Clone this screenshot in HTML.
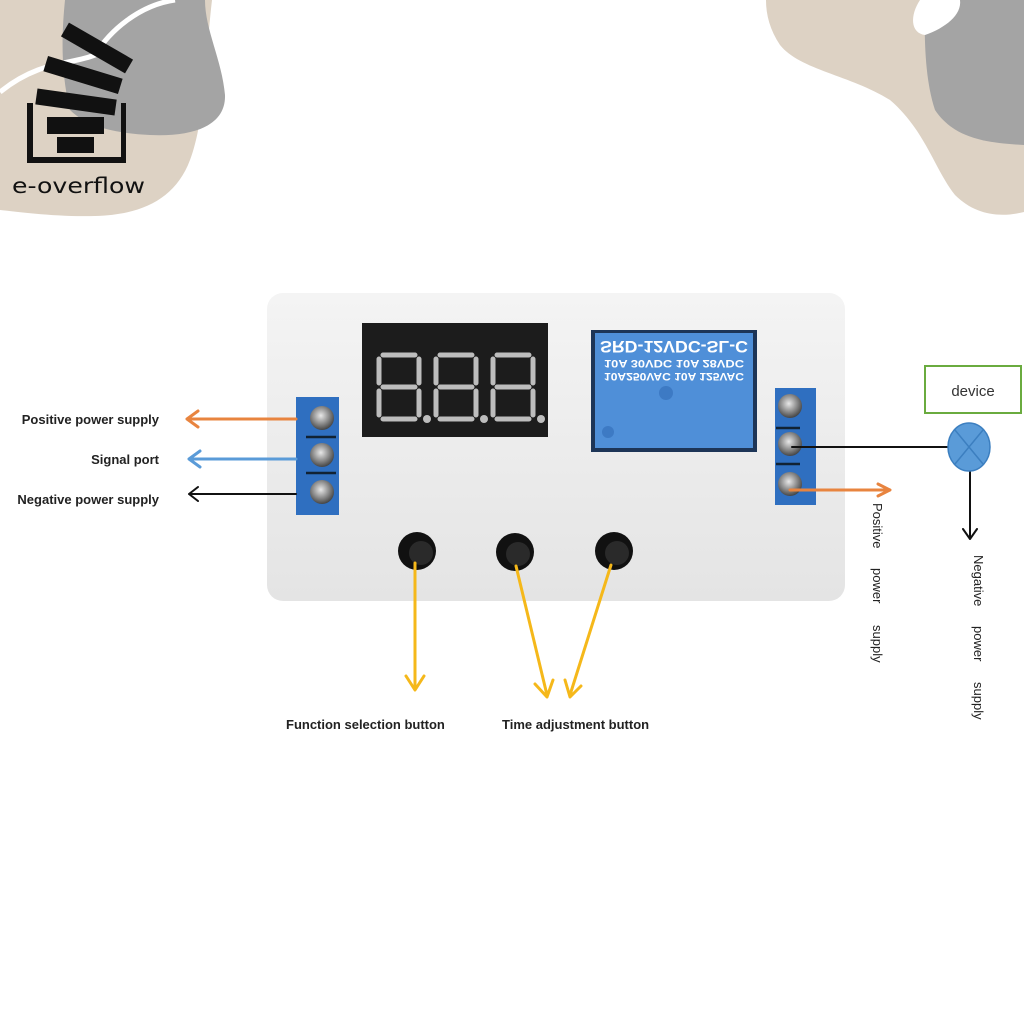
<!DOCTYPE html>
<html><head><meta charset="utf-8"><style>
html,body{margin:0;padding:0;background:#fff;width:1024px;height:1024px;overflow:hidden}
svg{display:block}
text{font-family:"Liberation Sans","DejaVu Sans",sans-serif}
</style></head><body>
<svg width="1024" height="1024" viewBox="0 0 1024 1024" xmlns="http://www.w3.org/2000/svg">
<defs>
<linearGradient id="bd" x1="0" y1="0" x2="0" y2="1"><stop offset="0" stop-color="#f4f4f4"/><stop offset="1" stop-color="#e4e4e4"/></linearGradient>
<radialGradient id="scr" cx="0.45" cy="0.4" r="0.7"><stop offset="0" stop-color="#e8e8e8"/><stop offset="0.5" stop-color="#8a8a8a"/><stop offset="1" stop-color="#2a2a2a"/></radialGradient>
</defs>
<path d="M0,0 L212,0 C205,60 205,120 190,160 C175,200 140,215 95,216 C55,217 20,212 0,210 Z" fill="#ddd2c4"/>
<path d="M65,0 L205,0 C205,30 222,60 225,95 C226,125 195,137 150,135 C110,133 85,125 70,110 C60,70 62,30 65,0 Z" fill="#a4a4a4"/>
<path d="M0,92 C40,60 70,65 95,55 C110,30 140,5 175,0" fill="none" stroke="#fff" stroke-width="5"/>
<g fill="#111">
<path d="M27,103 h6 v54 h88 v-54 h5 v60 h-99 z"/>
<rect x="47" y="117" width="57" height="17"/>
<rect x="57" y="137" width="37" height="16"/>
<rect x="36" y="94" width="80" height="16" transform="rotate(8 76 102)"/>
<rect x="44" y="67" width="78" height="16" transform="rotate(17 83 75)"/>
<rect x="60" y="40" width="74" height="16" transform="rotate(30 97 48)"/>
</g>
<text x="12" y="193" font-size="21" fill="#111" textLength="133" lengthAdjust="spacingAndGlyphs" style="font-family:'DejaVu Sans',sans-serif">e-overflow</text>
<path d="M766,0 L1024,0 L1024,212 C1000,218 975,215 955,195 C935,170 925,130 890,100 C850,75 800,70 780,45 C770,30 766,15 766,0 Z" fill="#ddd2c4"/>
<path d="M925,0 L1024,0 L1024,145 C990,143 955,140 935,110 C925,80 924,40 925,0 Z" fill="#a4a4a4"/>
<path d="M920,0 L960,0 C962,15 945,28 925,35 C910,33 910,15 920,0 Z" fill="#fff"/>
<rect x="267" y="293" width="578" height="308" rx="16" fill="url(#bd)"/>
<rect x="362" y="323" width="186" height="114" fill="#1c1c1c"/>
<g fill="none" stroke="#bdbdbd" stroke-width="5" stroke-linecap="round">
<path d="M383,355 h32 M383,387 h32 M383,419 h32 M379,359 v24 M379,391 v24 M419,359 v24 M419,391 v24"/>
<path d="M440,355 h32 M440,387 h32 M440,419 h32 M436,359 v24 M436,391 v24 M476,359 v24 M476,391 v24"/>
<path d="M497,355 h32 M497,387 h32 M497,419 h32 M493,359 v24 M493,391 v24 M533,359 v24 M533,391 v24"/>
</g>
<circle cx="427" cy="419" r="4" fill="#bdbdbd"/><circle cx="484" cy="419" r="4" fill="#bdbdbd"/><circle cx="541" cy="419" r="4" fill="#bdbdbd"/>
<rect x="591" y="330" width="166" height="122" fill="#1d3557"/>
<rect x="595" y="333" width="158" height="115" fill="#4f8fd8"/>
<g transform="translate(0 782) scale(1 -1)" fill="#fff" font-weight="bold">
<text x="600" y="441" font-size="17" textLength="148" lengthAdjust="spacingAndGlyphs">SRD-12VDC-SL-C</text>
<text x="604" y="422" font-size="11" textLength="140" lengthAdjust="spacingAndGlyphs">10A 30VDC   10A   28VDC</text>
<text x="604" y="409" font-size="11" textLength="140" lengthAdjust="spacingAndGlyphs">10A250VAC   10A   125VAC</text>
</g>
<circle cx="666" cy="393" r="7" fill="#3d7ac4"/>
<circle cx="608" cy="432" r="6" fill="#3d7ac4"/>
<rect x="296" y="397" width="43" height="118" fill="#2f6fc0"/>
<g stroke="#123" stroke-width="2.5"><line x1="306" y1="437" x2="336" y2="437"/><line x1="306" y1="473" x2="336" y2="473"/></g>
<circle cx="322" cy="418" r="12" fill="url(#scr)"/><circle cx="322" cy="455" r="12" fill="url(#scr)"/><circle cx="322" cy="492" r="12" fill="url(#scr)"/>
<rect x="775" y="388" width="41" height="117" fill="#2f6fc0"/>
<g stroke="#123" stroke-width="2.5"><line x1="776" y1="428" x2="800" y2="428"/><line x1="776" y1="464" x2="800" y2="464"/></g>
<circle cx="790" cy="406" r="12" fill="url(#scr)"/><circle cx="790" cy="444" r="12" fill="url(#scr)"/><circle cx="790" cy="484" r="12" fill="url(#scr)"/>
<g>
<circle cx="417" cy="551" r="19" fill="#111"/><circle cx="421" cy="553" r="12" fill="#2a2a2a"/>
<circle cx="515" cy="552" r="19" fill="#111"/><circle cx="518" cy="554" r="12" fill="#2a2a2a"/>
<circle cx="614" cy="551" r="19" fill="#111"/><circle cx="617" cy="553" r="12" fill="#2a2a2a"/>
</g>
<g fill="none" stroke-width="3" stroke-linecap="round" stroke-linejoin="round">
<path d="M296,419 H187 M198,411 L187,419 L198,427" stroke="#e8843f"/>
<path d="M296,459 H189 M200,451 L189,459 L200,467" stroke="#5a9bd8"/>
<path d="M296,494 H189 M198,487 L189,494 L198,501" stroke="#111" stroke-width="2"/>
<path d="M415,563 V688 M406,676 L415,690 L424,676" stroke="#f5b81a"/>
<path d="M516,566 L547,695 M535,684 L547,697 L553,680" stroke="#f5b81a"/>
<path d="M611,565 L570,695 M565,680 L570,697 L581,686" stroke="#f5b81a"/>
<path d="M790,490 H888 M878,484 L890,490 L878,496" stroke="#e8843f"/>
<path d="M792,447 H950" stroke="#111" stroke-width="2"/>
<path d="M970,470 V538 M963,529 L970,539 L977,529" stroke="#111" stroke-width="2"/>
</g>
<text x="159" y="424" font-size="13" font-weight="bold" fill="#222" text-anchor="end">Positive power supply</text>
<text x="159" y="464" font-size="13" font-weight="bold" fill="#222" text-anchor="end">Signal port</text>
<text x="159" y="504" font-size="13" font-weight="bold" fill="#222" text-anchor="end">Negative power supply</text>
<text x="286" y="729" font-size="13" font-weight="bold" fill="#222">Function selection button</text>
<text x="502" y="729" font-size="13" font-weight="bold" fill="#222">Time adjustment button</text>
<rect x="925" y="366" width="96" height="47" fill="#fff" stroke="#6aab3f" stroke-width="2"/>
<text x="973" y="396" font-size="15" fill="#333" text-anchor="middle">device</text>
<ellipse cx="969" cy="447" rx="21" ry="24" fill="#5a9bd8" stroke="#3c7fc0" stroke-width="1.5"/>
<path d="M955,430 L983,464 M983,430 L955,464" stroke="#3c7fc0" stroke-width="1.5"/>
<g font-size="13" fill="#222">
<text transform="translate(873,503) rotate(90)">Positive</text>
<text transform="translate(873,568) rotate(90)">power</text>
<text transform="translate(873,625) rotate(90)">supply</text>
<text transform="translate(974,555) rotate(90)">Negative</text>
<text transform="translate(974,626) rotate(90)">power</text>
<text transform="translate(974,682) rotate(90)">supply</text>
</g>
</svg>
</body></html>
